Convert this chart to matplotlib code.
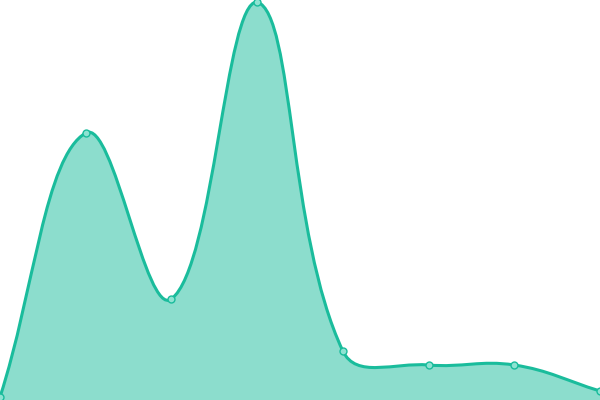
import numpy as np
import matplotlib
matplotlib.use("Agg")
import matplotlib.pyplot as plt
from matplotlib.path import Path
from matplotlib.patches import PathPatch

# valores
x = [0, 1, 2, 3, 4, 5, 6, 7]
vals = [3, 267, 101, 398, 49, 35, 35, 9]

color = "#1abc9c"
tension = 0.4
xmax, ymax = 7, 400
W, H = 600, 400  # pixeles del area


def spline_path(xs, ys, base=None):
    # curva tipo chart.js (tension 0.4), distancias en pixeles
    sx, sy = W / xmax, H / ymax
    P = [(a * sx, b * sy) for a, b in zip(xs, ys)]
    n = len(P)
    ctrl = []
    for i in range(n):
        p0 = P[i - 1] if i > 0 else P[i]
        p1 = P[i]
        p2 = P[i + 1] if i < n - 1 else P[i]
        d01 = np.hypot(p1[0] - p0[0], p1[1] - p0[1])
        d12 = np.hypot(p2[0] - p1[0], p2[1] - p1[1])
        s01 = d01 / (d01 + d12) if d01 + d12 else 0
        s12 = d12 / (d01 + d12) if d01 + d12 else 0
        fa, fb = tension * s01, tension * s12
        prev = (p1[0] - fa * (p2[0] - p0[0]), p1[1] - fa * (p2[1] - p0[1]))
        nxt = (p1[0] + fb * (p2[0] - p0[0]), p1[1] + fb * (p2[1] - p0[1]))
        cap = lambda q: (min(max(q[0], 0), W), min(max(q[1], 0), H))
        ctrl.append((cap(prev), cap(nxt)))
    to_data = lambda q: (q[0] / sx, q[1] / sy)
    verts = [to_data(P[0])]
    codes = [Path.MOVETO]
    for i in range(n - 1):
        verts += [to_data(ctrl[i][1]), to_data(ctrl[i + 1][0]), to_data(P[i + 1])]
        codes += [Path.CURVE4] * 3
    if base is not None:
        verts += [(xs[-1], base), (xs[0], base), (xs[0], ys[0])]
        codes += [Path.LINETO, Path.LINETO, Path.CLOSEPOLY]
    return Path(verts, codes)


fig = plt.figure(figsize=(6, 4), dpi=100)
ax = fig.add_axes([0, 0, 1, 1])

ax.add_patch(PathPatch(spline_path(x, vals, base=0), facecolor=color, alpha=0.5, edgecolor="none"))
ax.add_patch(PathPatch(spline_path(x, vals), facecolor="none", edgecolor=color, lw=2.2))
ax.plot(x, vals, "o", ms=5, mfc="#8ee3d2", mec=color, mew=1, clip_on=False, zorder=5)

ax.set_xlim(0, xmax)
ax.set_ylim(0, ymax)
ax.axis("off")

fig.savefig("out.png")
